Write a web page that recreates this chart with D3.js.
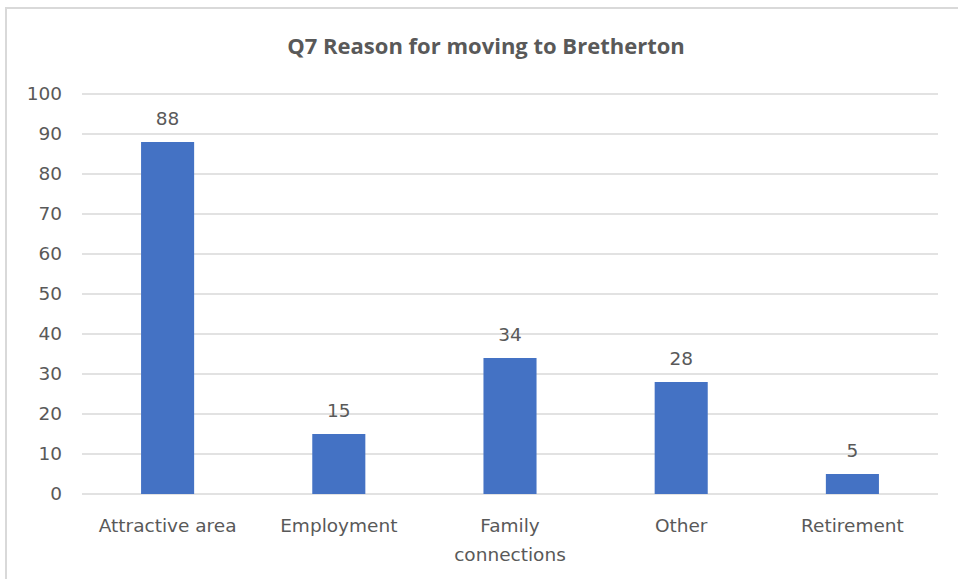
<!DOCTYPE html>
<html>
<head>
<meta charset="utf-8">
<script src="https://cdn.jsdelivr.net/npm/d3@7"></script>
<style>
  body { margin: 0; background: #fff; }
  text { fill: #595959; }
</style>
</head>
<body>
<svg id="chart"></svg>
<script>
const categories = ["Attractive area", "Employment", "Family connections", "Other", "Retirement"];
const counts = [88, 15, 34, 28, 5];
const yTicks = [0, 10, 20, 30, 40, 50, 60, 70, 80, 90, 100];
const title = "Q7 Reason for moving to Bretherton";

const width = 958, height = 579;
const margin = { top: 94, right: 20, bottom: 85, left: 82 };
const labelFont = "DejaVu Sans, sans-serif";

const svg = d3.select("#chart")
    .attr("width", width)
    .attr("height", height);

// chart frame (only top and left edges fall inside the picture)
svg.append("rect")
    .attr("x", 6).attr("y", 8)
    .attr("width", width + 20).attr("height", height + 20)
    .attr("fill", "#fff")
    .attr("stroke", "#d9d9d9")
    .attr("stroke-width", 2);

const x = d3.scaleBand()
    .domain(categories)
    .range([margin.left, width - margin.right])
    .paddingInner(0.69)
    .paddingOuter(0.345);

const y = d3.scaleLinear()
    .domain([0, 100])
    .range([height - margin.bottom, margin.top]);

// gridlines
svg.append("g")
    .selectAll("line")
    .data(yTicks)
    .join("line")
    .attr("x1", margin.left)
    .attr("x2", width - margin.right)
    .attr("y1", d => y(d))
    .attr("y2", d => y(d))
    .attr("stroke", "#d9d9d9")
    .attr("stroke-width", 1.5);

// y axis labels
const yAxis = svg.append("g")
    .attr("transform", `translate(${margin.left}, 0)`)
    .call(d3.axisLeft(y).tickValues(yTicks).tickSize(0).tickPadding(20));
yAxis.select(".domain").remove();
yAxis.selectAll("text")
    .style("font-family", labelFont)
    .style("font-size", "18.5px")
    .attr("fill", "#595959");

// bars
svg.append("g")
    .selectAll("rect")
    .data(categories)
    .join("rect")
    .attr("x", d => x(d))
    .attr("width", x.bandwidth())
    .attr("y", (d, i) => y(counts[i]))
    .attr("height", (d, i) => y(0) - y(counts[i]))
    .attr("fill", "#4472c4");

// value labels
svg.append("g")
    .selectAll("text")
    .data(categories)
    .join("text")
    .attr("x", d => x(d) + x.bandwidth() / 2)
    .attr("y", (d, i) => y(counts[i]) - 17)
    .attr("text-anchor", "middle")
    .style("font-family", labelFont)
    .style("font-size", "18.5px")
    .text((d, i) => counts[i]);

// category labels, wrapped like Excel does
const catLines = { "Family connections": ["Family", "connections"] };
svg.append("g")
    .selectAll("text")
    .data(categories)
    .join("text")
    .attr("text-anchor", "middle")
    .style("font-family", labelFont)
    .style("font-size", "18.5px")
    .each(function (d) {
        const lines = catLines[d] || [d];
        d3.select(this).selectAll("tspan")
            .data(lines)
            .join("tspan")
            .attr("x", x(d) + x.bandwidth() / 2)
            .attr("y", (l, i) => 532 + i * 29)
            .text(l => l);
    });

// title
svg.append("text")
    .attr("x", 486)
    .attr("y", 54)
    .attr("text-anchor", "middle")
    .style("font-family", "Open Sans, sans-serif")
    .style("font-size", "22px")
    .style("font-weight", "bold")
    .text(title);
</script>
</body>
</html>
